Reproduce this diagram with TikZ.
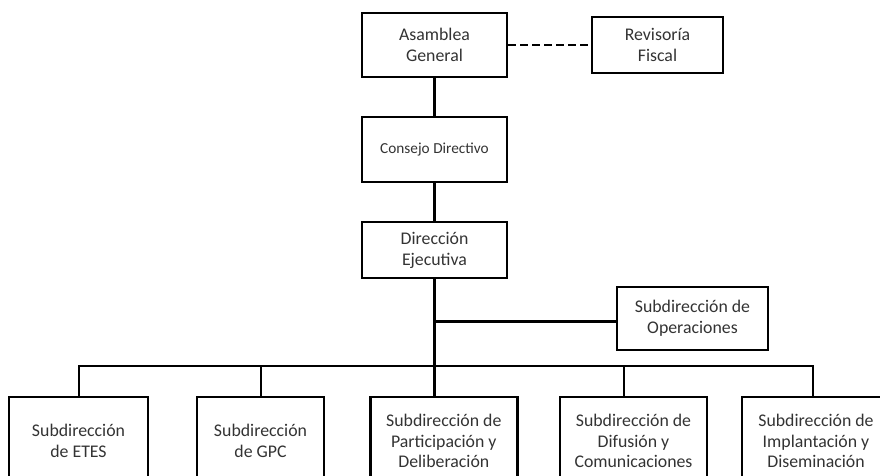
\documentclass[tikz,border=0pt]{standalone}
\usepackage{fontspec}
\setmainfont{Carlito}
\begin{document}
\begin{tikzpicture}[x=1pt,y=-1pt,
  box/.style={draw=black, line width=2.7pt, rectangle, align=center, inner sep=0pt,
    font=\fontsize{17.8}{20.8}\selectfont, text=black!80},
  smallbox/.style={box, font=\fontsize{15.3}{18}\selectfont},
  conn/.style={draw=black, line width=2.7pt, line join=miter},
  dconn/.style={conn, dash pattern=on 8pt off 4pt}]
\useasboundingbox (0,0) rectangle (880,475);
\clip (0,0) rectangle (880,475);

\node[box, minimum width=145, minimum height=64] (ag) at (434.5,45) {Asamblea\\General};
\node[box, minimum width=131, minimum height=56] (rf) at (657.5,45) {Revisoría\\Fiscal};
\node[smallbox, minimum width=145, minimum height=65] (cd) at (434.5,149.5) {Consejo Directivo};
\node[box, minimum width=145, minimum height=56] (de) at (434.5,250) {Dirección\\Ejecutiva};
\node[box, minimum width=151, minimum height=63] (so) at (692.5,318.5) {Subdirección de\\Operaciones};

\node[box, minimum width=139, minimum height=88] (b1) at (78.5,441) {Subdirección\\de ETES};
\node[box, minimum width=127, minimum height=88] (b2) at (260.5,441) {Subdirección\\de GPC};
\node[box, minimum width=147, minimum height=88] (b3) at (443.8,441) {Subdirección de\\Participación y\\Deliberación};
\node[box, minimum width=147, minimum height=88] (b4) at (633.5,441) {Subdirección de\\Difusión y\\Comunicaciones};
\node[box, minimum width=148, minimum height=88] (b5) at (816,441) {Subdirección de\\Implantación y\\Diseminación};

\coordinate (op) at (434.5,321.5);
\coordinate (bus) at (434.5,366);
\coordinate (busL) at (79,366);
\coordinate (busR) at (813,366);
\coordinate (d2) at (261,366);
\coordinate (d4) at (624,366);

\draw[dconn] (ag.east) -- (rf.west);
\draw[conn] (ag) -- (cd);
\draw[conn] (cd) -- (de);
\draw[conn] (de.south) -- (bus);
\draw[conn] (op) -- (op -| so.west);
\draw[conn] (busL |- b1.north) -- (busL) -- (busR) -- (busR |- b5.north);
\draw[conn] (d2) -- (d2 |- b2.north);
\draw[conn] (bus) -- (bus |- b3.north);
\draw[conn] (d4) -- (d4 |- b4.north);
\end{tikzpicture}
\end{document}
